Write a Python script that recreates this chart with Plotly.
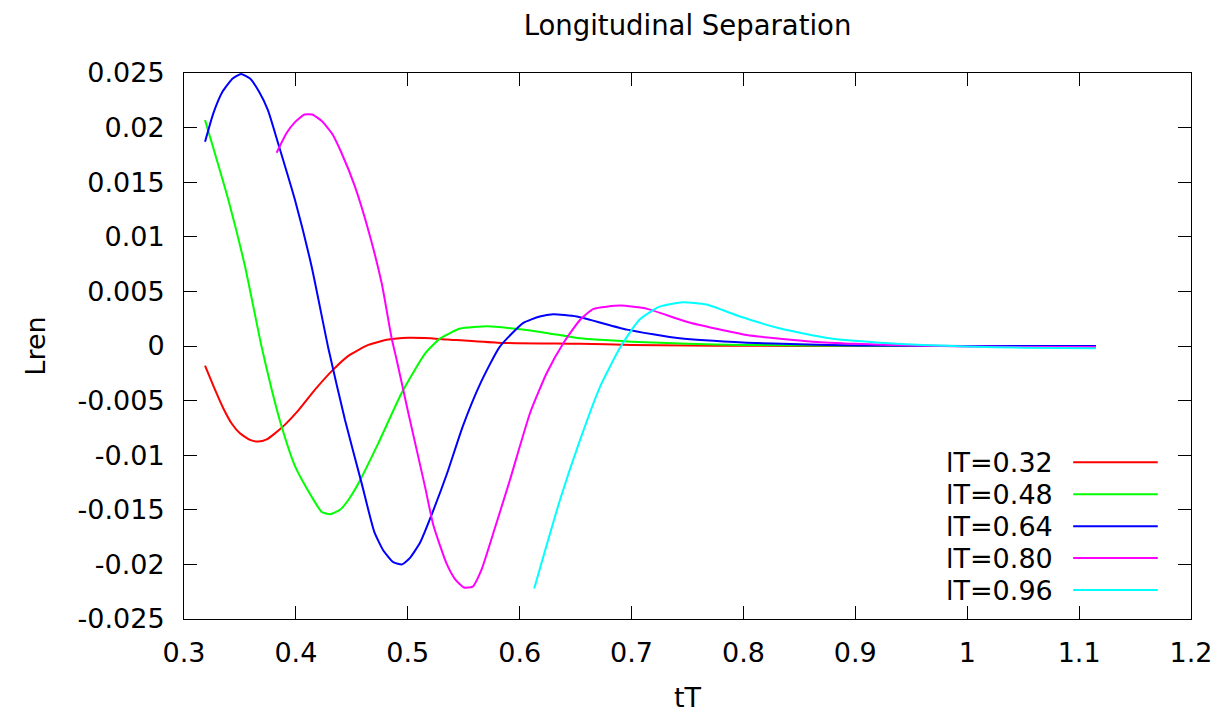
import plotly.graph_objects as go

# ---- data ----
labels = ["lT=0.32", "lT=0.48", "lT=0.64", "lT=0.80", "lT=0.96"]
colors = ["#ff0000", "#00ff00", "#0000ff", "#ff00ff", "#00ffff"]

x_032 = [0.3188, 0.3277, 0.3351, 0.3426, 0.3500, 0.3590, 0.3664, 0.3739, 0.3813, 0.3903,
         0.4022, 0.4171, 0.4320, 0.4469, 0.4647, 0.4826, 0.5005, 0.5154, 0.535, 0.580,
         0.654, 0.700, 0.750, 0.800, 0.900, 1.000, 1.115]
y_032 = [-0.0018, -0.0040, -0.0057, -0.0071, -0.0080, -0.0086, -0.00875, -0.00855, -0.0080,
         -0.0072, -0.0059, -0.0040, -0.0023, -0.0009, 0.0001, 0.0006, 0.00076, 0.00073,
         0.0006, 0.0003, 0.0002, 0.0001, 0.00005, 0.00002, 0.0, 0.0, 0.0]

x_048 = [0.3188, 0.3396, 0.3545, 0.3694, 0.3784, 0.3873, 0.3992, 0.4141, 0.4231, 0.4305,
         0.4394, 0.4469, 0.4558, 0.4737, 0.4945, 0.5154, 0.529, 0.547, 0.571, 0.594,
         0.624, 0.654, 0.700, 0.750, 0.800, 0.900, 1.000, 1.115]
y_048 = [0.0207, 0.0134, 0.0073, -0.0001, -0.0040, -0.0074, -0.0110, -0.0138, -0.0152,
         -0.0154, -0.0150, -0.0141, -0.0126, -0.0089, -0.0043, -0.0007, 0.0007, 0.0016,
         0.0018, 0.0016, 0.0012, 0.0007, 0.0004, 0.0002, 0.0001, 0.00002, 0.0, 0.0]

x_064 = [0.3188, 0.3262, 0.3345, 0.3435, 0.351, 0.359, 0.367, 0.375, 0.3843, 0.3992,
         0.4141, 0.4290, 0.4439, 0.4588, 0.4700, 0.478, 0.487, 0.495, 0.502, 0.511,
         0.523, 0.535, 0.549, 0.565, 0.582, 0.603, 0.618, 0.630, 0.651, 0.696, 0.743,
         0.803, 0.850, 0.900, 1.000, 1.115]
y_064 = [0.0187, 0.0213, 0.0233, 0.0245, 0.0249, 0.0245, 0.0233, 0.0216, 0.0185, 0.01337,
         0.00726, -0.0002, -0.00678, -0.01258, -0.0170, -0.0187, -0.0198, -0.0200, -0.0194,
         -0.0180, -0.0150, -0.0117, -0.0074, -0.0034, -0.0001, 0.0021, 0.0027, 0.0029,
         0.0027, 0.0015, 0.0007, 0.0003, 0.00015, 0.00005, 0.0, 0.0]

x_080 = [0.3828, 0.3917, 0.3992, 0.4076, 0.4146, 0.4231, 0.4320, 0.4409, 0.4528, 0.4647,
         0.4767, 0.4856, 0.4901, 0.5004, 0.5154, 0.5228, 0.5348, 0.5422, 0.5502, 0.5580,
         0.5660, 0.5764, 0.5913, 0.6092, 0.6241, 0.6390, 0.6539, 0.666, 0.690, 0.714,
         0.750, 0.803, 0.862, 0.900, 0.950, 1.000, 1.050, 1.115]
y_080 = [0.0177, 0.0195, 0.0205, 0.0212, 0.0212, 0.0206, 0.0195, 0.01765, 0.01459, 0.01062,
         0.00574, 0.00071, -0.00128, -0.00609, -0.01288, -0.01639, -0.01996, -0.02134,
         -0.02212, -0.02204, -0.02045, -0.01715, -0.01227, -0.00616, -0.0025, 0.00025,
         0.00238, 0.0034, 0.0037, 0.0034, 0.0022, 0.0010, 0.0004, 0.0002, 0.00005,
         -0.00005, -0.0001, -0.0001]

x_096 = [0.613, 0.636, 0.654, 0.672, 0.690, 0.707, 0.725, 0.746, 0.767, 0.797, 0.833,
         0.877, 0.922, 0.960, 1.000, 1.050, 1.115]
y_096 = [-0.0222, -0.0141, -0.0086, -0.0037, -0.0001, 0.0024, 0.0036, 0.0040, 0.0038,
         0.0027, 0.0016, 0.0007, 0.0003, 0.0001, -0.00005, -0.00015, -0.0002]

xs = [x_032, x_048, x_064, x_080, x_096]
ys = [y_032, y_048, y_064, y_080, y_096]

x_ticks = [0.3, 0.4, 0.5, 0.6, 0.7, 0.8, 0.9, 1.0, 1.1, 1.2]
x_ticktext = ["0.3", "0.4", "0.5", "0.6", "0.7", "0.8", "0.9", "1", "1.1", "1.2"]
y_ticks = [0.025, 0.02, 0.015, 0.01, 0.005, 0.0, -0.005, -0.01, -0.015, -0.02, -0.025]
y_ticktext = ["0.025", "0.02", "0.015", "0.01", "0.005", "0", "-0.005", "-0.01",
              "-0.015", "-0.02", "-0.025"]

FONT = "DejaVu Sans"
FS = 27

fig = go.Figure()
for xv, yv, c, name in zip(xs, ys, colors, labels):
    fig.add_trace(go.Scatter(x=xv, y=yv, mode="lines", name=name,
                             line=dict(color=c, width=2, shape="spline", smoothing=0.5),
                             showlegend=False))

# gnuplot-style legend: text right-aligned, sample line to its right
row_y0 = 0.287
row_dy = 0.0585
for i, (c, name) in enumerate(zip(colors, labels)):
    yy = row_y0 - i * row_dy
    fig.add_annotation(x=0.865, y=yy, xref="paper", yref="paper", text=name,
                       showarrow=False, xanchor="right", yanchor="middle",
                       font=dict(family=FONT, size=FS, color="black"))
    fig.add_shape(type="line", xref="paper", yref="paper", x0=0.883, x1=0.967,
                  y0=yy, y1=yy, line=dict(color=c, width=2))

axis_common = dict(showline=True, linecolor="black", linewidth=1, mirror="allticks",
                   ticks="inside", ticklen=13, tickcolor="black", tickwidth=1,
                   showgrid=False, zeroline=False, automargin=False,
                   tickfont=dict(family=FONT, size=FS, color="black"))

fig.update_xaxes(range=[0.3, 1.2], tickvals=x_ticks, ticktext=x_ticktext,
                 title=dict(text="tT", font=dict(family=FONT, size=FS, color="black"), standoff=20),
                 ticklabelstandoff=10, **axis_common)
fig.update_yaxes(range=[-0.025, 0.025], tickvals=y_ticks, ticktext=y_ticktext,
                 title=dict(text="Lren", font=dict(family=FONT, size=FS, color="black"), standoff=24),
                 ticklabelstandoff=13, **axis_common)

fig.update_layout(
    width=1219, height=713,
    margin=dict(l=184, r=28, t=73, b=94),
    paper_bgcolor="white", plot_bgcolor="white",
    title=dict(text="Longitudinal Separation", x=0.5, xref="paper",
               y=1 - 25 / 713, yref="container", yanchor="middle", xanchor="center",
               font=dict(family=FONT, size=27.5, color="black")),
    showlegend=False,
)

fig.write_html("out.html", config={"displayModeBar": False},
               post_script="document.body.style.margin='0';document.body.style.overflow='hidden';")
